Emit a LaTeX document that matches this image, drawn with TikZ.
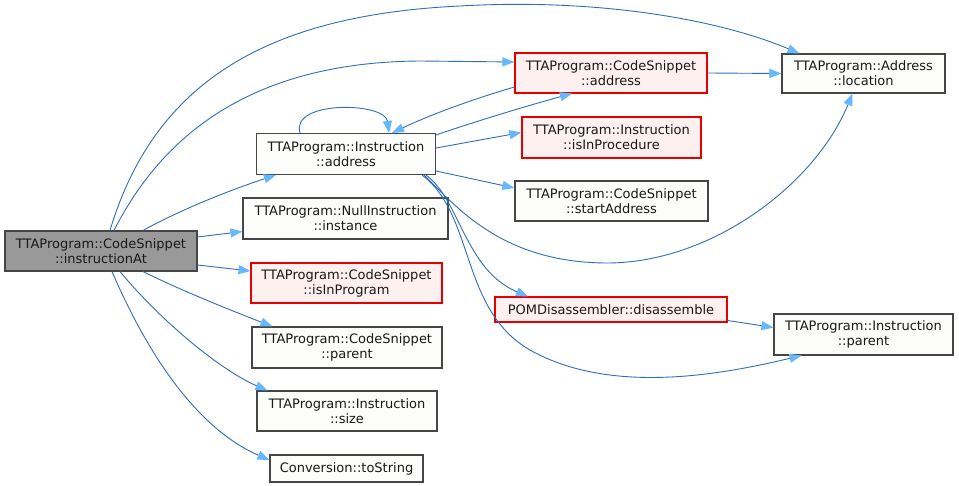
\documentclass[tikz,border=0pt]{standalone}
\usepackage{fontspec}
\setmainfont{DejaVu Sans}
\usetikzlibrary{arrows.meta}
\definecolor{edgecol}{RGB}{48,110,185}
\definecolor{arrowfill}{RGB}{99,184,255}
\definecolor{nodefill}{RGB}{252,253,250}
\definecolor{nodeborder}{RGB}{70,70,70}
\definecolor{redfill}{RGB}{255,240,240}
\definecolor{redborder}{RGB}{230,0,0}
\definecolor{rootfill}{RGB}{153,153,153}
\tikzset{
  fn/.style={draw=nodeborder, fill=nodefill, line width=1.1pt, inner sep=0pt, align=center,
    font=\fontsize{13}{15}\selectfont, text=black!90},
  redfn/.style={fn, draw=redborder, fill=redfill},
  rootfn/.style={fn, fill=rootfill, draw=nodeborder},
  call/.style={draw=edgecol, line width=0.9pt,
    -{Triangle[length=12pt,width=9pt,color=arrowfill]}},
}
\begin{document}
\begin{tikzpicture}[x=1pt,y=-1pt]
\useasboundingbox (0,0) rectangle (959,486);
\fill[white] (0,0) rectangle (959,486);

\node[rootfn, minimum width=192pt, minimum height=40pt] (root) at (101,251) {TTAProgram::CodeSnippet\\::instructionAt};
\node[fn, minimum width=179pt, minimum height=41pt] (instAddr) at (346,154) {TTAProgram::Instruction\\::address};
\node[fn, minimum width=205pt, minimum height=41pt] (nullInst) at (345.5,218.5) {TTAProgram::NullInstruction\\::instance};
\node[redfn, minimum width=191pt, minimum height=40pt] (isInProgram) at (346.5,283) {TTAProgram::CodeSnippet\\::isInProgram};
\node[fn, minimum width=190pt, minimum height=41pt] (csParent) at (347,347.5) {TTAProgram::CodeSnippet\\::parent};
\node[fn, minimum width=180pt, minimum height=40pt] (instSize) at (347,411) {TTAProgram::Instruction\\::size};
\node[fn, minimum width=153pt, minimum height=27pt] (toString) at (346.5,468.5) {Conversion::toString};
\node[redfn, minimum width=192pt, minimum height=40pt] (csAddress) at (611,73) {TTAProgram::CodeSnippet\\::address};
\node[redfn, minimum width=179pt, minimum height=41pt] (isInProcedure) at (611.5,137.5) {TTAProgram::Instruction\\::isInProcedure};
\node[fn, minimum width=193pt, minimum height=40pt] (startAddress) at (611.5,201) {TTAProgram::CodeSnippet\\::startAddress};
\node[fn, minimum width=163pt, minimum height=39pt] (location) at (863.5,73.5) {TTAProgram::Address\\::location};
\node[redfn, minimum width=232pt, minimum height=25pt] (disassemble) at (611,309.5) {POMDisassembler::disassemble};
\node[fn, minimum width=179pt, minimum height=41pt] (instParent) at (863.5,334.5) {TTAProgram::Instruction\\::parent};

% from root
\draw[call] ([xshift=9pt]root.north) .. controls (155,80) and (270,15) .. (460,6)
  .. controls (600,-2) and (720,20) .. ([xshift=18pt]location.north west);
\draw[call] ([xshift=13pt]root.north) .. controls (170,120) and (270,62) .. (420,61) -- ([yshift=11pt]csAddress.west);
\draw[call] ([xshift=42pt]root.north) .. controls (180,210) and (230,190) .. ([xshift=20pt]instAddr.south west);
\draw[call] ([yshift=14pt]root.east) -- ([yshift=-13pt]nullInst.west);
\draw[call] ([yshift=-14pt]root.east) -- ([yshift=12pt]isInProgram.west);
\draw[call] ([xshift=42pt]root.south) .. controls (180,290) and (230,310) .. ([xshift=21pt]csParent.north west);
\draw[call] ([xshift=19pt]root.south) .. controls (160,320) and (220,370) .. ([xshift=11pt]instSize.north west);
\draw[call] ([xshift=11pt]root.south) .. controls (150,360) and (200,430) .. ([yshift=8.5pt]toString.west);

% from instruction address
\draw[call] ([xshift=-46pt]instAddr.north) .. controls (290,100) and (385,102) .. ([xshift=43pt]instAddr.north);
\draw[call] ([yshift=-2pt]instAddr.north east) .. controls (480,120) and (530,105) .. ([xshift=-39pt]csAddress.south);
\draw[call] ([yshift=6pt]instAddr.east) -- ([yshift=5pt]isInProcedure.west);
\draw[call] ([yshift=-17pt]instAddr.east) -- ([yshift=13pt]startAddress.west);
\draw[call] ([xshift=-12pt]instAddr.south east) .. controls (455,205) and (500,262) .. (605,263)
  .. controls (710,264) and (815,185) .. ([xshift=-11pt]location.south);
\draw[call] ([xshift=-10pt]instAddr.south east) .. controls (460,200) and (465,270) .. ([xshift=-83pt]disassemble.north);
\draw[call] ([xshift=-14pt]instAddr.south east) .. controls (475,215) and (460,310) .. (530,350)
  .. controls (610,395) and (720,375) .. ([xshift=-62pt]instParent.south);

% others
\draw[call] ([yshift=-14pt]csAddress.west) .. controls (470,100) and (430,115) .. ([xshift=46pt]instAddr.north);
\draw[call] (csAddress.east) -- (location.west);
\draw[call] ([yshift=-11pt]disassemble.east) -- ([yshift=7pt]instParent.west);
\end{tikzpicture}
\end{document}
